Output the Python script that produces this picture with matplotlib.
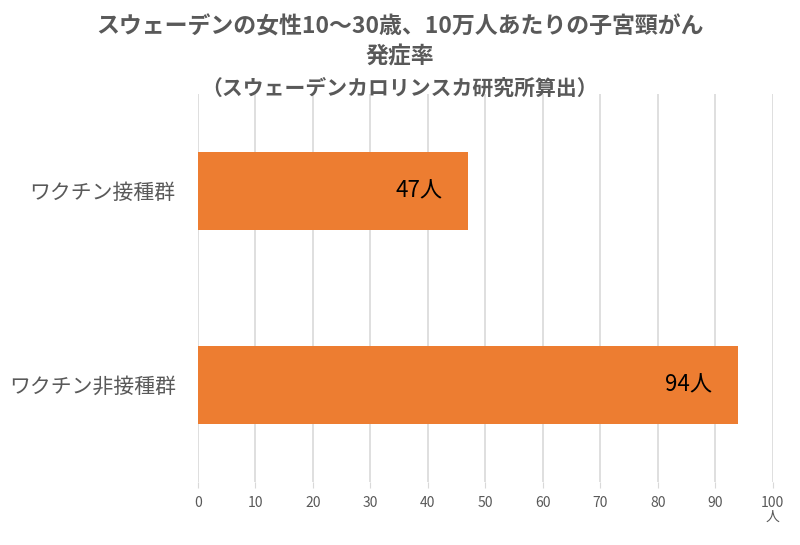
import matplotlib.pyplot as plt

plt.rcParams['font.family'] = ['Noto Sans CJK JP', 'DejaVu Sans']

# data
groups = ['ワクチン接種群', 'ワクチン非接種群']
rates = [47, 94]
value_labels = ['47人', '94人']
x_ticks = list(range(0, 101, 10))

bar_color = '#ED7D31'
grid_color = '#D9D9D9'
text_gray = '#595959'

fig = plt.figure(figsize=(8, 5.45), dpi=100)
ax = fig.add_axes([0.2475, 0.116, 0.7185, 0.712])

ypos = list(range(len(groups)))
bars = ax.barh(ypos, rates, height=0.40, color=bar_color, zorder=2)

ax.set_xlim(0, 100)
ax.set_ylim(1.5, -0.5)
ax.set_yticks(ypos)
ax.set_yticklabels(groups, fontsize=15, color=text_gray)
ax.set_xticks(x_ticks)
ax.set_xticklabels([str(t) for t in x_ticks], fontsize=10, color=text_gray)
ax.tick_params(axis='y', length=0, pad=16)
ax.tick_params(axis='x', length=4, color=grid_color, pad=6)

ax.grid(axis='x', color=grid_color, linewidth=1.2, zorder=0)
for s in ax.spines.values():
    s.set_visible(False)

for b, lab in zip(bars, value_labels):
    ax.text(b.get_width() - 4.5, b.get_y() + b.get_height() / 2, lab,
            ha='right', va='center', fontsize=16, color='black', zorder=3)

# unit under the last tick
ax.text(100, -0.09, '人', transform=ax.get_xaxis_transform(),
        ha='center', va='center', fontsize=10, color=text_gray)

fig.text(0.5, 0.950, 'スウェーデンの女性10～30歳、10万人あたりの子宮頸がん',
         ha='center', va='center', fontsize=16.5, fontweight='bold', color=text_gray)
fig.text(0.5, 0.895, '発症率',
         ha='center', va='center', fontsize=16.5, fontweight='bold', color=text_gray)
fig.text(0.5, 0.838, '（スウェーデンカロリンスカ研究所算出）',
         ha='center', va='center', fontsize=15, fontweight='bold', color=text_gray)

fig.savefig('out.png', dpi=100)
